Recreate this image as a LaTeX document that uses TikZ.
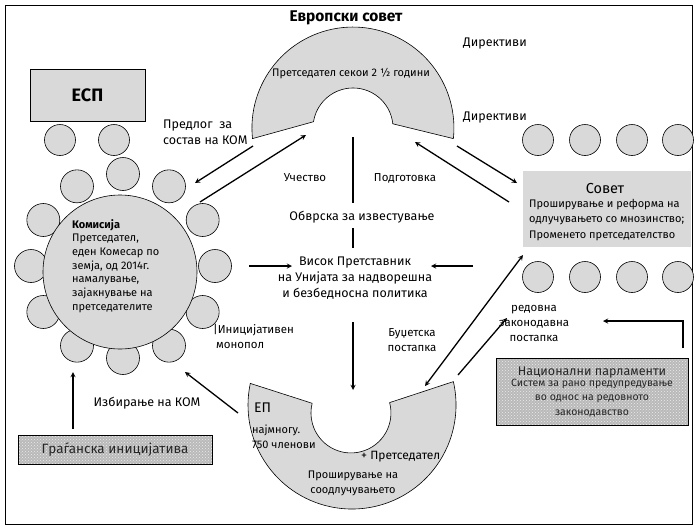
\documentclass[tikz,border=0pt]{standalone}
\usepackage{fontspec}
\setmainfont{Fira Sans}
\usetikzlibrary{patterns}
\definecolor{seatgray}{HTML}{D9D9D9}

\begin{document}
\begin{tikzpicture}[x=1pt,y=-1pt,
  arr/.style={-stealth,line width=1.3pt},
  seat/.style={draw,fill=seatgray,line width=0.6pt},
  lbl/.style={inner sep=0pt,align=center,font=\fontsize{11.5}{15}\selectfont},
  big/.style={font=\fontsize{12.5}{16}\selectfont},
  dotbox/.style={draw,line width=0.8pt,preaction={fill=gray!55},pattern=crosshatch dots,pattern color=gray!15,text=black!85}]
\useasboundingbox (0,0) rectangle (697,525);
\draw[line width=0.8pt] (5,5) rectangle (692,524);

% Evropski sovet and EP
\draw[seat] (252.5,138.6) arc[start angle=174,end angle=366,radius=101] -- (392.8,123.8) arc[start angle=354,end angle=189,radius=40] -- cycle;
\draw[seat] (250.3,383.4) arc[start angle=192,end angle=-13,radius=104] -- (389.6,402.6) arc[start angle=-15,end angle=194,radius=40] -- cycle;

% Komisija
\foreach \a in {0,30,...,330} \draw[seat] (123,266) ++(\a:92) circle[radius=16.5];
\draw[seat] (120,272) circle[radius=77];
\node[lbl,align=left,anchor=west,font=\fontsize{11}{13.7}\selectfont] (com) at (72,266) {\textbf{Комисија}\\Претседател,\\еден Комесар по\\земја, од 2014г.\\намалување,\\зајакнување на\\претседателите};

\node[draw,fill=seatgray,line width=0.6pt,minimum width=115pt,minimum height=52pt,font=\bfseries\fontsize{18}{18}\selectfont] (esp) at (87.5,95) {ЕСП};
\foreach \x in {60,114} \draw[seat] (\x,140) circle[radius=15.5];

% Sovet
\node[fill=seatgray,minimum width=168pt,minimum height=76pt] (council) at (607,209) {};
\foreach \x in {538,585,632,678} {
  \draw[seat] (\x,140) circle[radius=15.5];
  \draw[seat] (\x,277) circle[radius=15.5];
}
\node[lbl,font=\fontsize{14.5}{15}\selectfont] (councilName) at (605,189) {Совет};
\node[lbl,align=left,anchor=west,font=\fontsize{11}{15.5}\selectfont] (councilText) at (529,220) {Проширување и реформа на\\одлучувањето со мнозинство;\\Променето претседателство};

\node[dotbox,minimum width=194pt,minimum height=29pt,font=\fontsize{13.5}{13.5}\selectfont] (citizen) at (115,449.5) {Граѓанска иницијатива};
\node[dotbox,minimum width=192pt,minimum height=67pt,align=center,font=\fontsize{10.5}{14.5}\selectfont] (np) at (592,391.5) {{\fontsize{12.5}{12}\selectfont Национални парламенти}\\[-3.5pt]Систем за рано предупредување\\во однос на редовното\\законодавство};

% labels
\node[lbl,font=\bfseries\fontsize{15.5}{16}\selectfont] (ecName) at (346,18) {Европски совет};
\node[lbl,font=\fontsize{11}{15}\selectfont] (ecChair) at (351,74) {Претседател секои 2 ½ години};
\node[lbl,big] (dir1) at (495,44) {Директиви};
\node[lbl,big] (dir2) at (495,118) {Директиви};
\node[lbl,big,align=left,anchor=west] (proposal) at (163,132) {Предлог\ \ за\\состав на КОМ};
\node[lbl] (part) at (305,178) {Учество};
\node[lbl] (prep) at (405,178) {Подготовка};
\node[lbl,big] (duty) at (362,217) {Обврска за известување};
\node[lbl,big] (hr) at (355,278) {Висок Претставник\\на Унијата за надворешна\\и безбедносна политика};
\node[lbl,align=left,anchor=west] (mono) at (213,336) {|Иницијативен\\\hspace{3pt}монопол};
\node[lbl] (budget) at (412,340) {Буџетска\\постапка};
\node[lbl] (ordinary) at (534,323) {редовна\\законодавна\\постапка};
\node[lbl,big] (elect) at (147,403) {Избирање на КОМ};
\node[lbl,anchor=west,font=\fontsize{14}{14}\selectfont] (epName) at (254,408) {ЕП};
\node[lbl,align=left,anchor=west,font=\fontsize{11}{15}\selectfont] (epSize) at (252,436.5) {најмногу.\\750 членови};
\node[lbl,anchor=west,font=\fontsize{12}{15}\selectfont] (epChair) at (361,457) {+ Претседател};
\node[lbl,font=\fontsize{11}{15}\selectfont] (epCo) at (353,483) {Проширување на\\соодлучувањето};

% arrows
\coordinate (p1) at (253,146); \coordinate (p2) at (195,183);
\coordinate (u1) at (200,202); \coordinate (u2) at (306,135);
\coordinate (c1) at (457,146); \coordinate (c2) at (517,183);
\coordinate (c3) at (509,202); \coordinate (c4) at (415,142);
\coordinate (v1) at (353,137); \coordinate (v2) at (353,203);
\coordinate (v3) at (353,228); \coordinate (v4) at (353,248);
\coordinate (h1) at (249,266); \coordinate (h2) at (292,266);
\coordinate (h3) at (473,266); \coordinate (h4) at (431,266);
\coordinate (e1) at (353,322); \coordinate (e2) at (353,390);
\coordinate (b1) at (425,386); \coordinate (b2) at (523,255);
\coordinate (r1) at (458,375); \coordinate (r2) at (507,318);
\coordinate (n1) at (683,348); \coordinate (n2) at (603,321);
\coordinate (k1) at (238,413); \coordinate (k2) at (185,372);
\coordinate (g1) at (73,429);  \coordinate (g2) at (73,372);
\draw[arr] (p1) -- (p2);
\draw[arr] (u1) -- (u2);
\draw[arr] (c1) -- (c2);
\draw[arr] (c3) -- (c4);
\draw[line width=1.3pt] (v1) -- (v2) (v3) -- (v4);
\draw[arr] (h1) -- (h2);
\draw[arr] (h3) -- (h4);
\draw[arr] (e1) -- (e2);
\draw[arr,stealth-stealth] (b1) -- (b2);
\draw[arr] (r1) -- (r2);
\draw[arr] (n1) |- (n2);
\draw[arr] (k1) -- (k2);
\draw[arr] (g1) -- (g2);
\end{tikzpicture}
\end{document}
